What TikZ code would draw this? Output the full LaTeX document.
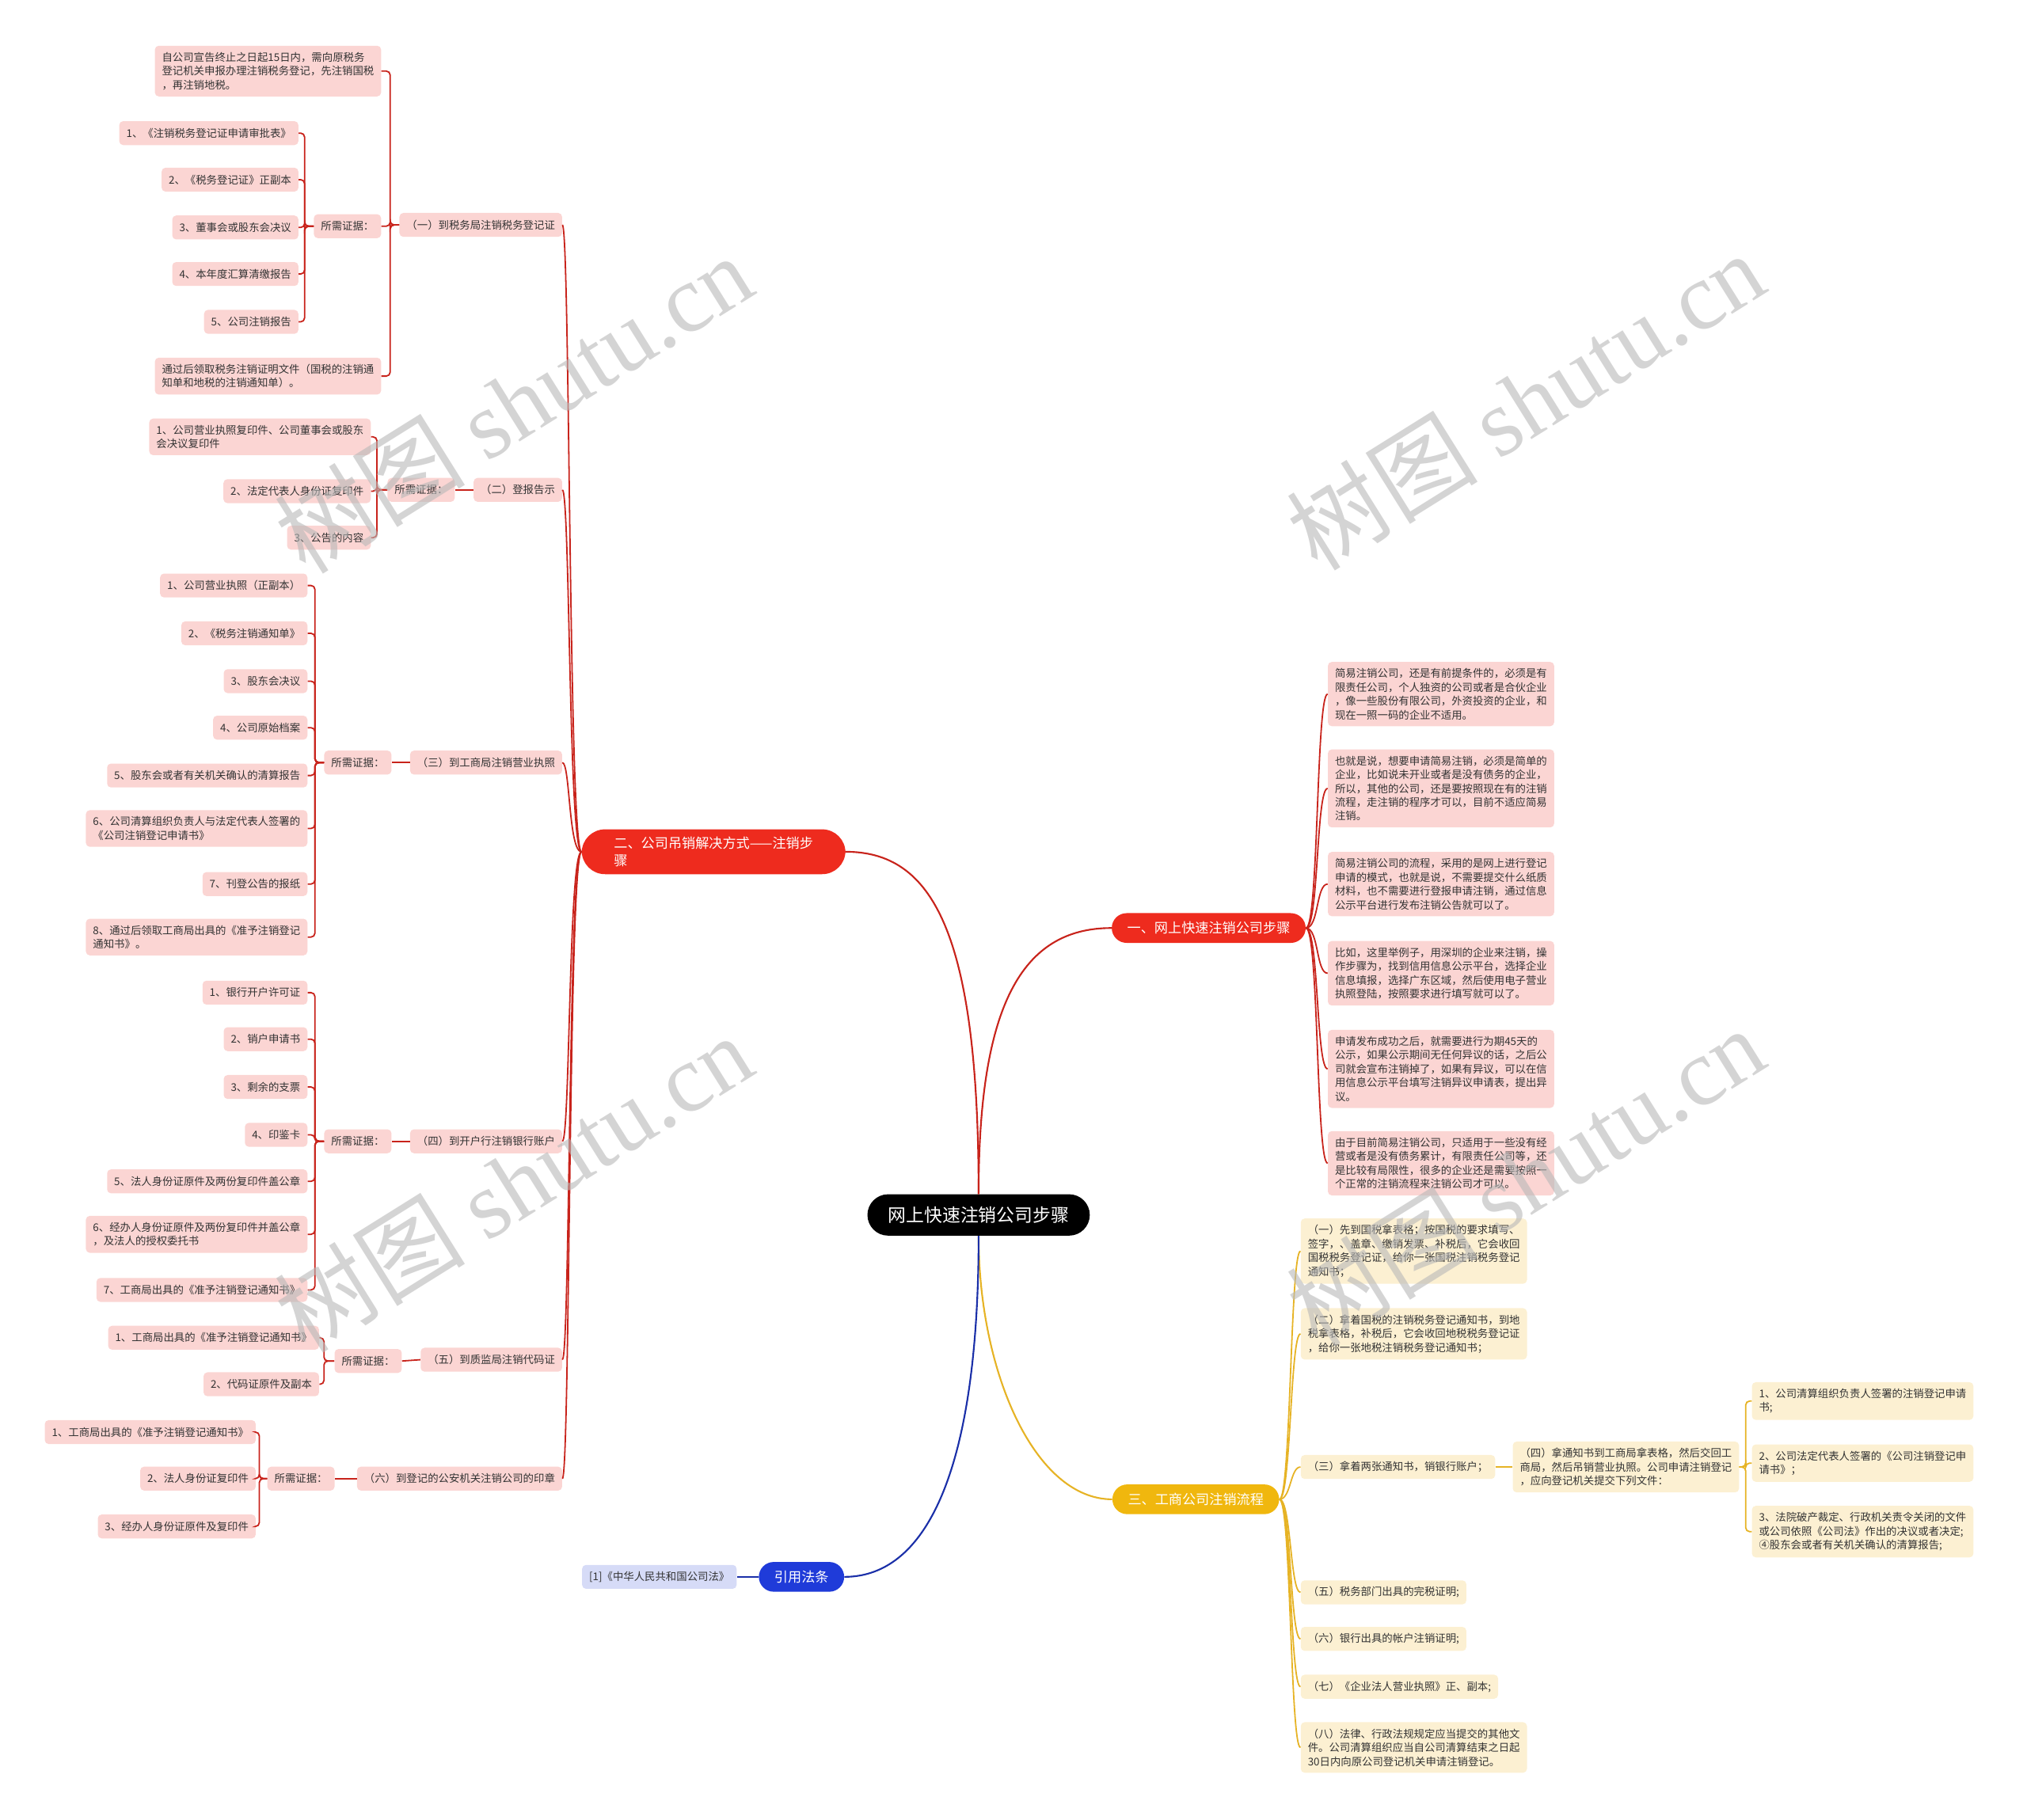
\documentclass[tikz,border=0pt]{standalone}
\usepackage{fontspec}
\setmainfont{Noto Sans CJK SC}
\newfontfamily\wmfont{Liberation Serif}
\usetikzlibrary{positioning,calc}
\definecolor{redfill}{HTML}{EE2B1E}
\definecolor{redline}{HTML}{C8231B}
\definecolor{pinkbox}{HTML}{FBD5D3}
\definecolor{goldfill}{HTML}{F0B70E}
\definecolor{goldline}{HTML}{E6B325}
\definecolor{creambox}{HTML}{FCF0D2}
\definecolor{bluefill}{HTML}{1F3BD9}
\definecolor{blueline}{HTML}{1A2FA8}
\definecolor{lavbox}{HTML}{D6DBF7}
\definecolor{txt}{HTML}{333333}
\definecolor{wmgray}{HTML}{B8B8B8}

\begin{document}
\begin{tikzpicture}[x=1pt, y=-1pt,
  root/.style={rectangle, rounded corners=16pt, fill=black, text=white, font=\fontsize{14}{17}\selectfont, inner xsep=16pt, minimum height=32pt},
  mainred/.style={rectangle, rounded corners=11.5pt, fill=redfill, text=white, font=\fontsize{10.5}{13}\selectfont, inner xsep=12pt, minimum height=23pt, align=left},
  maingold/.style={mainred, fill=goldfill},
  mainblue/.style={mainred, fill=bluefill},
  boxred/.style={rectangle, rounded corners=3pt, fill=pinkbox, text=txt, font=\fontsize{8.2}{10.7}\selectfont, inner xsep=5.5pt, inner ysep=5pt, minimum height=18.5pt, align=left},
  boxgold/.style={boxred, fill=creambox},
  boxblue/.style={boxred, fill=lavbox},
  linkred/.style={draw=redline, line width=1.1pt},
  linkgold/.style={draw=goldline, line width=1.1pt},
  linkblue/.style={draw=blueline, line width=1.1pt},
  wmark/.style={text=wmgray, opacity=0.6, font=\fontsize{74}{80}\selectfont, rotate=32}
]
\useasboundingbox (0,0) rectangle (1568,1408);

% --- Centro y ramas ---
\node[root] (root) at (757,940) {网上快速注销公司步骤};
\node[mainred] (one) at (935,718) {一、网上快速注销公司步骤};
\node[mainred, rounded corners=18pt, inner xsep=20pt, inner ysep=6pt, minimum width=204pt] (two) at (552,659) {二、公司吊销解决方式——注销步\\骤};
\node[maingold] (three) at (925,1160) {三、工商公司注销流程};
\node[mainblue] (cite) at (620,1220) {引用法条};
\node[boxblue, anchor=east] (law) at (570,1220) {[1]《中华人民共和国公司法》};

% --- Rama uno ---
\node[boxred, anchor=west] (r1) at (1027,537) {简易注销公司，还是有前提条件的，必须是有\\限责任公司，个人独资的公司或者是合伙企业\\，像一些股份有限公司，外资投资的企业，和\\现在一照一码的企业不适用。};
\node[boxred, anchor=west] (r2) at (1027,610) {也就是说，想要申请简易注销，必须是简单的\\企业，比如说未开业或者是没有债务的企业，\\所以，其他的公司，还是要按照现在有的注销\\流程，走注销的程序才可以，目前不适应简易\\注销。};
\node[boxred, anchor=west] (r3) at (1027,684) {简易注销公司的流程，采用的是网上进行登记\\申请的模式，也就是说，不需要提交什么纸质\\材料，也不需要进行登报申请注销，通过信息\\公示平台进行发布注销公告就可以了。};
\node[boxred, anchor=west] (r4) at (1027,753) {比如，这里举例子，用深圳的企业来注销，操\\作步骤为，找到信用信息公示平台，选择企业\\信息填报，选择广东区域，然后使用电子营业\\执照登陆，按照要求进行填写就可以了。};
\node[boxred, anchor=west] (r5) at (1027,827) {申请发布成功之后，就需要进行为期45天的\\公示，如果公示期间无任何异议的话，之后公\\司就会宣布注销掉了，如果有异议，可以在信\\用信息公示平台填写注销异议申请表，提出异\\议。};
\node[boxred, anchor=west] (r6) at (1027,900) {由于目前简易注销公司，只适用于一些没有经\\营或者是没有债务累计，有限责任公司等，还\\是比较有局限性，很多的企业还是需要按照一\\个正常的注销流程来注销公司才可以。};

% --- Rama dos ---
\node[boxred, anchor=east] (s1) at (435,174) {（一）到税务局注销税务登记证};
\node[boxred, anchor=east] (s2) at (435,379) {（二）登报告示};
\node[boxred, anchor=east] (s3) at (435,590) {（三）到工商局注销营业执照};
\node[boxred, anchor=east] (s4) at (435,883) {（四）到开户行注销银行账户};
\node[boxred, anchor=east] (s5) at (435,1052) {（五）到质监局注销代码证};
\node[boxred, anchor=east] (s6) at (435,1144) {（六）到登记的公安机关注销公司的印章};

\node[boxred, anchor=east] (t1a) at (295,55) {自公司宣告终止之日起15日内，需向原税务\\登记机关申报办理注销税务登记，先注销国税\\，再注销地税。};
\node[boxred, anchor=east] (t1b) at (295,175) {所需证据：};
\node[boxred, anchor=east] (t1c) at (295,291) {通过后领取税务注销证明文件（国税的注销通\\知单和地税的注销通知单）。};
\node[boxred, anchor=east] (u1) at (231,103) {1、《注销税务登记证申请审批表》};
\node[boxred, anchor=east] (u2) at (231,139) {2、《税务登记证》正副本};
\node[boxred, anchor=east] (u3) at (231,176) {3、董事会或股东会决议};
\node[boxred, anchor=east] (u4) at (231,212) {4、本年度汇算清缴报告};
\node[boxred, anchor=east] (u5) at (231,249) {5、公司注销报告};

\node[boxred, anchor=east] (e2) at (352,379) {所需证据：};
\node[boxred, anchor=east] (v1) at (287,338) {1、公司营业执照复印件、公司董事会或股东\\会决议复印件};
\node[boxred, anchor=east] (v2) at (287,380) {2、法定代表人身份证复印件};
\node[boxred, anchor=east] (v3) at (287,416) {3、公告的内容};

\node[boxred, anchor=east] (e3) at (303,590) {所需证据：};
\node[boxred, anchor=east] (w1) at (238,453) {1、公司营业执照（正副本）};
\node[boxred, anchor=east] (w2) at (238,490) {2、《税务注销通知单》};
\node[boxred, anchor=east] (w3) at (238,527) {3、股东会决议};
\node[boxred, anchor=east] (w4) at (238,563) {4、公司原始档案};
\node[boxred, anchor=east] (w5) at (238,600) {5、股东会或者有关机关确认的清算报告};
\node[boxred, anchor=east] (w6) at (238,641) {6、公司清算组织负责人与法定代表人签署的\\《公司注销登记申请书》};
\node[boxred, anchor=east] (w7) at (238,684) {7、刊登公告的报纸};
\node[boxred, anchor=east] (w8) at (238,725) {8、通过后领取工商局出具的《准予注销登记\\通知书》。};

\node[boxred, anchor=east] (e4) at (303,883) {所需证据：};
\node[boxred, anchor=east] (x1) at (238,768) {1、银行开户许可证};
\node[boxred, anchor=east] (x2) at (238,804) {2、销户申请书};
\node[boxred, anchor=east] (x3) at (238,841) {3、剩余的支票};
\node[boxred, anchor=east] (x4) at (238,878) {4、印鉴卡};
\node[boxred, anchor=east] (x5) at (238,914) {5、法人身份证原件及两份复印件盖公章};
\node[boxred, anchor=east] (x6) at (238,955) {6、经办人身份证原件及两份复印件并盖公章\\，及法人的授权委托书};
\node[boxred, anchor=east] (x7) at (238,998) {7、工商局出具的《准予注销登记通知书》};

\node[boxred, anchor=east] (e5) at (311,1053) {所需证据：};
\node[boxred, anchor=east] (q1) at (247,1035) {1、工商局出具的《准予注销登记通知书》};
\node[boxred, anchor=east] (q2) at (247,1071) {2、代码证原件及副本};

\node[boxred, anchor=east] (e6) at (259,1144) {所需证据：};
\node[boxred, anchor=east] (p1) at (198,1108) {1、工商局出具的《准予注销登记通知书》};
\node[boxred, anchor=east] (p2) at (198,1144) {2、法人身份证复印件};
\node[boxred, anchor=east] (p3) at (198,1181) {3、经办人身份证原件及复印件};

% --- Rama tres ---
\node[boxgold, anchor=west] (y1) at (1006,968) {（一）先到国税拿表格；按国税的要求填写、\\签字，、盖章、缴销发票、补税后，它会收回\\国税税务登记证，给你一张国税注销税务登记\\通知书；};
\node[boxgold, anchor=west] (y2) at (1006,1032) {（二）拿着国税的注销税务登记通知书，到地\\税拿表格，补税后，它会收回地税税务登记证\\，给你一张地税注销税务登记通知书；};
\node[boxgold, anchor=west] (y3) at (1006,1135) {（三）拿着两张通知书，销银行账户；};
\node[boxgold, anchor=west] (y4) at (1006,1232) {（五）税务部门出具的完税证明;};
\node[boxgold, anchor=west] (y5) at (1006,1268) {（六）银行出具的帐户注销证明;};
\node[boxgold, anchor=west] (y6) at (1006,1305) {（七）《企业法人营业执照》正、副本;};
\node[boxgold, anchor=west] (y7) at (1006,1352) {（八）法律、行政法规规定应当提交的其他文\\件。公司清算组织应当自公司清算结束之日起\\30日内向原公司登记机关申请注销登记。};
\node[boxgold, anchor=west] (four) at (1170,1135) {（四）拿通知书到工商局拿表格，然后交回工\\商局，然后吊销营业执照。公司申请注销登记\\，应向登记机关提交下列文件：};
\node[boxgold, anchor=west] (z1) at (1355,1084) {1、公司清算组织负责人签署的注销登记申请\\书;};
\node[boxgold, anchor=west] (z2) at (1355,1132) {2、公司法定代表人签署的《公司注销登记申\\请书》；};
\node[boxgold, anchor=west] (z3) at (1355,1185) {3、法院破产裁定、行政机关责令关闭的文件\\或公司依照《公司法》作出的决议或者决定;\\④股东会或者有关机关确认的清算报告;};

% --- Conexiones ---
\draw[linkred, line width=1.3pt] (root.north) .. controls +(0,-205) and +(66,0) .. (two.east);
\draw[linkred, line width=1.3pt] (root.north) .. controls +(0,-145) and +(-70,0) .. (one.west);
\draw[linkgold, line width=1.3pt] (root.south) .. controls +(0,105) and +(-60,0) .. (three.west);
\draw[linkblue, line width=1.3pt] (root.south) .. controls +(0,175) and +(66,0) .. (cite.east);
\draw[linkblue] (cite.west) -- (law.east);

\foreach \nd in {r1,r2,r3,r4,r5,r6}
  \draw[linkred] (one.east) .. controls +(10,0) and +(-9,0) .. (\nd.west);
\foreach \nd in {s1,s2,s3,s4,s5,s6}
  \draw[linkred] (two.west) .. controls +(-10,0) and +(6,0) .. (\nd.east);

\foreach \nd in {t1a,t1b,t1c}
  \draw[linkred, rounded corners=3pt] (s1.west) -- ++(-7,0) |- (\nd.east);
\foreach \nd in {u1,u2,u3,u4,u5}
  \draw[linkred, rounded corners=3pt] (t1b.west) -- ++(-7,0) |- (\nd.east);
\draw[linkred] (s2.west) -- (e2.east);
\foreach \nd in {v1,v2,v3}
  \draw[linkred, rounded corners=3pt] (e2.west) -- ++(-8,0) |- (\nd.east);
\draw[linkred] (s3.west) -- (e3.east);
\foreach \nd in {w1,w2,w3,w4,w5,w6,w7,w8}
  \draw[linkred, rounded corners=3pt] (e3.west) -- ++(-7,0) |- (\nd.east);
\draw[linkred] (s4.west) -- (e4.east);
\foreach \nd in {x1,x2,x3,x4,x5,x6,x7}
  \draw[linkred, rounded corners=3pt] (e4.west) -- ++(-7,0) |- (\nd.east);
\draw[linkred] (s5.west) -- (e5.east);
\foreach \nd in {q1,q2}
  \draw[linkred, rounded corners=3pt] (e5.west) -- ++(-8,0) |- (\nd.east);
\draw[linkred] (s6.west) -- (e6.east);
\foreach \nd in {p1,p2,p3}
  \draw[linkred, rounded corners=3pt] (e6.west) -- ++(-6,0) |- (\nd.east);

\foreach \nd in {y1,y2,y3,y4,y5,y6,y7}
  \draw[linkgold] (three.east) .. controls +(9,0) and +(-8,0) .. (\nd.west);
\draw[linkgold] (y3.east) -- (four.west);
\foreach \nd in {z1,z2,z3}
  \draw[linkgold, rounded corners=3pt] (four.east) -- ++(5,0) |- (\nd.west);

% --- Marca de agua ---
\node[wmark] (wm1) at (397,312) {树图 {\wmfont shutu.cn}};
\node[wmark] (wm2) at (1180,310) {树图 {\wmfont shutu.cn}};
\node[wmark] (wm3) at (397,915) {树图 {\wmfont shutu.cn}};
\node[wmark] (wm4) at (1180,910) {树图 {\wmfont shutu.cn}};

\end{tikzpicture}
\end{document}
